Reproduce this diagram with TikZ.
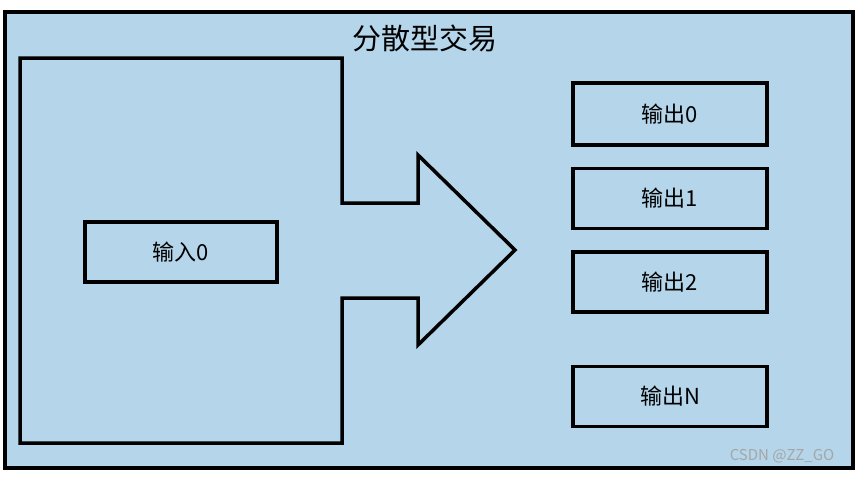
\documentclass[tikz,border=0pt]{standalone}
\usepackage{fontspec}
\setmainfont{Noto Sans CJK SC}
\usetikzlibrary{positioning}
\definecolor{bgblue}{HTML}{B4D5EA}

\begin{document}
\begin{tikzpicture}[
  x=1pt, y=-1pt,
  box/.style={draw, line width=3.5pt, minimum width=192pt, minimum height=60pt, font=\fontsize{22}{26}\selectfont},
  outline/.style={draw, line width=3.5pt}
]
  \useasboundingbox (0,0) rectangle (863,477);

  \draw[outline, fill=bgblue] (5,12) rectangle (853,468);
  \node[font=\fontsize{29}{34}\selectfont] (title) at (425,38) {分散型交易};

  % big arrow
  \draw[outline, line join=miter] (20,58) -- (342,58) -- (342,203) -- (418,203) -- (418,155)
    -- (515,250) -- (418,345) -- (418,298) -- (342,298) -- (342,443) -- (20,443) -- cycle;

  \node[box] (in0) at (181,252) {输入0};

  \node[box, minimum width=194pt, minimum height=62pt] (out0) at (670,114) {输出0};
  \node[box, minimum width=194pt, below=20pt of out0] (out1) {输出1};
  \node[box, minimum width=194pt, below=20pt of out1] (out2) {输出2};
  \node[box, minimum width=194pt, below=51pt of out2] (outn) {输出N};

  \node[text=gray!70, font=\fontsize{15}{17}\selectfont] (mark) at (782,456) {CSDN @ZZ\_GO};
\end{tikzpicture}
\end{document}
